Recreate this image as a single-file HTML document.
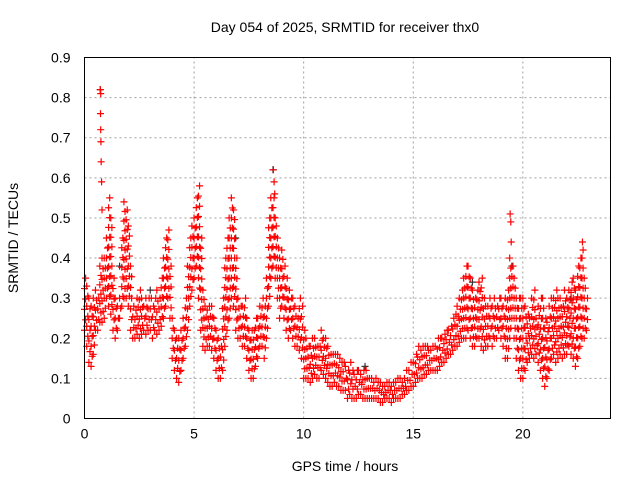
<!DOCTYPE html>
<html><head><meta charset="utf-8"><style>
body{margin:0;background:#fff;}
svg{display:block;font-family:"Liberation Sans",sans-serif;}
</style></head><body>
<svg id="chart" width="640" height="480" viewBox="0 0 640 480" xmlns="http://www.w3.org/2000/svg">
<rect width="640" height="480" fill="#fff"/>
<text x="345" y="32" font-size="14" text-anchor="middle">Day 054 of 2025, SRMTID for receiver thx0</text>
<g id="grid"></g>
<g id="ticks"></g>
<g id="marks"></g>
<rect x="84.5" y="57.5" width="526" height="361" fill="none" stroke="#000" stroke-width="1"/>
<text x="345" y="471" font-size="14" text-anchor="middle">GPS time / hours</text>
<text x="18" y="238" font-size="14" text-anchor="middle" transform="rotate(-90 18 238)">SRMTID / TECUs</text>
</svg>
<script>
const xTicks=[0,5,10,15,20];
const yTicks=[0,0.1,0.2,0.3,0.4,0.5,0.6,0.7,0.8,0.9];
const yTickLabels=["0","0.1","0.2","0.3","0.4","0.5","0.6","0.7","0.8","0.9"];
const t0=0, dt=0.1;
const hiVals=[
.35,.33,.30,.28,.30,.32,.30,.38,.40,.40,
.45,.55,.50,.35,.30,.28,.30,.45,.54,.52,
.48,.38,.28,.27,.30,.32,.30,.28,.30,.30,
.30,.28,.30,.32,.30,.35,.40,.45,.47,.38,
.25,.22,.20,.20,.22,.25,.30,.38,.45,.48,
.50,.55,.58,.45,.32,.28,.27,.28,.28,.25,
.22,.20,.18,.30,.40,.45,.50,.55,.52,.40,
.30,.28,.28,.30,.25,.22,.22,.22,.25,.25,
.28,.30,.28,.35,.50,.55,.55,.48,.45,.40,
.42,.38,.35,.32,.30,.30,.28,.25,.30,.28,
.22,.20,.18,.18,.20,.20,.18,.18,.22,.20,
.20,.18,.16,.16,.16,.16,.15,.14,.14,.13,
.12,.14,.12,.11,.12,.12,.11,.12,.12,.10,
.10,.10,.09,.10,.09,.09,.08,.08,.09,.09,
.08,.09,.09,.10,.10,.09,.10,.12,.12,.14,
.14,.16,.18,.17,.18,.18,.18,.17,.17,.18,
.18,.20,.20,.20,.21,.22,.22,.23,.25,.26,
.28,.30,.32,.35,.38,.38,.35,.32,.30,.32,
.34,.35,.30,.28,.28,.30,.28,.30,.28,.30,
.30,.28,.30,.32,.40,.38,.35,.30,.30,.30,
.30,.28,.26,.25,.30,.32,.25,.28,.30,.30,
.25,.24,.28,.30,.30,.32,.30,.30,.28,.32,
.30,.32,.34,.35,.32,.38,.40,.40,.35,.30];
const loVals=[
.22,.18,.14,.13,.16,.22,.22,.24,.24,.25,
.30,.28,.26,.22,.20,.22,.25,.28,.30,.30,
.28,.22,.20,.20,.21,.20,.21,.22,.21,.22,
.22,.20,.22,.21,.22,.23,.25,.28,.30,.25,
.15,.12,.10,.09,.12,.15,.18,.22,.28,.32,
.35,.38,.30,.22,.18,.17,.18,.18,.17,.15,
.12,.10,.10,.12,.18,.22,.25,.30,.28,.22,
.20,.20,.18,.18,.15,.12,.10,.10,.13,.15,
.18,.18,.15,.20,.28,.35,.38,.35,.30,.25,
.28,.25,.22,.20,.22,.20,.18,.18,.17,.15,
.10,.10,.10,.09,.10,.11,.10,.10,.12,.11,
.10,.09,.08,.08,.09,.08,.08,.07,.07,.07,
.05,.06,.05,.05,.05,.06,.06,.05,.05,.05,
.05,.05,.05,.05,.05,.04,.04,.05,.05,.05,
.04,.05,.05,.05,.05,.06,.06,.07,.07,.08,
.08,.09,.10,.10,.10,.11,.11,.12,.12,.12,
.12,.12,.13,.14,.14,.15,.16,.16,.17,.18,
.18,.19,.20,.20,.20,.22,.20,.18,.18,.20,
.20,.18,.17,.18,.18,.20,.18,.20,.20,.22,
.20,.18,.15,.15,.20,.25,.20,.15,.12,.10,
.10,.12,.14,.15,.16,.15,.16,.14,.12,.10,
.08,.10,.12,.15,.16,.14,.15,.16,.15,.16,
.16,.18,.16,.15,.13,.15,.18,.20,.20,.22];
const spikeT=[0.72,0.74,0.73,0.74,0.75,0.76,0.78,0.8,8.62,8.65,8.68,8.7,19.42,19.45,19.47,22.72,22.75];
const spikeV=[0.82,0.81,0.76,0.72,0.69,0.64,0.59,0.52,0.62,0.59,0.56,0.5,0.51,0.49,0.44,0.44,0.42];
const blackT=[0.72,8.6,1.6,19.5,22.2,3.0,17.7,12.8,6.9];
const blackV=[0.82,0.62,0.38,0.38,0.30,0.32,0.34,0.13,0.45];

const X0=84.5,X1=610.5,Y0=418.5,Y1=57.5;
const xs=v=>X0+(v-0)/24*(X1-X0);
const ys=v=>Y0-(v/0.9)*(Y0-Y1);
const NS="http://www.w3.org/2000/svg";
const grid=document.getElementById('grid'),ticks=document.getElementById('ticks'),marks=document.getElementById('marks');
function mk(tag,attrs,parent){const e=document.createElementNS(NS,tag);for(const k in attrs)e.setAttribute(k,attrs[k]);parent.appendChild(e);return e;}
xTicks.forEach(v=>{
  const x=xs(v);
  if(v>0){const g=mk('line',{x1:x,x2:x,y1:Y0,y2:Y1,stroke:'#a0a0a0','stroke-dasharray':'2,3'},grid);
  
  }
  const t=mk('text',{x:x,y:Y0+20,'font-size':14,'text-anchor':'middle'},ticks);
  t.textContent=v;
  
  
});
yTicks.forEach((v,i)=>{
  const y=ys(v);
  if(i>0&&i<yTicks.length-1){const g=mk('line',{x1:X0,x2:X1,y1:y,y2:y,stroke:'#a0a0a0','stroke-dasharray':'2,3'},grid);
  
  }
  const t=mk('text',{x:X0-14,y:y+5,'font-size':14,'text-anchor':'end'},ticks);
  t.textContent=yTickLabels[i];
  
  
});
function plus(t,v,col,name){
  const x=xs(t),y=ys(v);
  const p=mk('path',{d:`M${x-3.5} ${y}h7M${x} ${y-3.5}v7`,stroke:col,'stroke-width':1.2,fill:'none'},marks);
  
  
}
blackT.forEach((t,i)=>plus(t,blackV[i],'#333','black-point'));
hiVals.forEach((h,i)=>{
  const t=t0+i*dt,l=loVals[i];
  const n=Math.max(2,Math.round((h-l)/0.025));
  for(let k=0;k<=n;k++){
    plus(t+(k%2)*0.05,l+(h-l)*k/n,'#ff0000','red-point');
  }
});
spikeT.forEach((t,i)=>plus(t,spikeV[i],'#ff0000','red-spike-point'));
</script>
</body></html>
